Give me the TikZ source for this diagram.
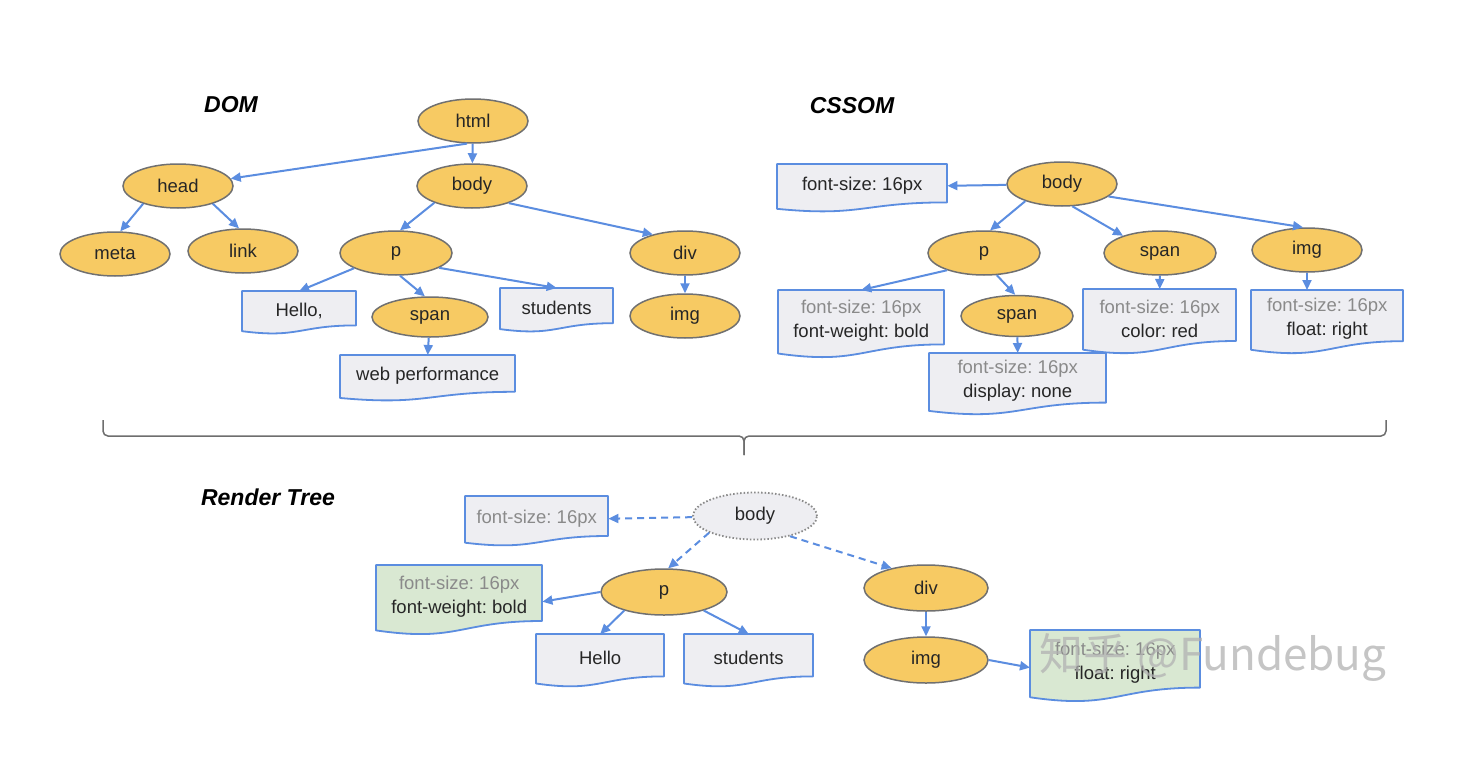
\documentclass[tikz,border=0pt]{standalone}
\usepackage{fontspec}
\setmainfont{Liberation Sans}
\newfontfamily\cjkfont{Noto Sans CJK SC}
\usetikzlibrary{shapes.geometric,arrows.meta}
\frenchspacing
\definecolor{ellfill}{HTML}{F7CA63}
\definecolor{ellline}{HTML}{707070}
\definecolor{blueline}{HTML}{5B8DE0}
\definecolor{boxfill}{HTML}{EEEEF2}
\definecolor{greenfill}{HTML}{D9E8D2}
\definecolor{graytxt}{HTML}{8A8A8A}
\definecolor{darktxt}{HTML}{262626}
\definecolor{braceline}{HTML}{6E6E6E}
\tikzset{
  ell/.style={ellipse, draw=ellline, fill=ellfill, line width=1.5pt, inner sep=0pt,
    minimum width=110pt, minimum height=44pt, text=darktxt, font=\fontsize{18.5}{22}\selectfont},
  dotell/.style={ell, fill=boxfill, draw=graytxt, dotted, line width=1.8pt},
  arr/.style={draw=blueline, line width=2pt, -{Triangle[length=10pt,width=9pt]}},
  darr/.style={arr, dash pattern=on 7pt off 5pt},
  boxtxt/.style={inner sep=0pt, align=center, text=darktxt, font=\fontsize{18.5}{24}\selectfont},
  titletxt/.style={font=\fontsize{23}{26}\selectfont\bfseries\itshape, text=black},
}
% #1 name, #2 x1, #3 y1, #4 w, #5 h, #6 fill, #7 text
\newcommand\docbox[7]{%
  \path[fill=#6, draw=blueline, line width=1.8pt, line join=round]
    (#2,#3) -- ({#2+#4},#3) -- ({#2+#4},{#3+0.8*#5})
    .. controls ({#2+0.5*#4},{#3+0.8*#5}) and ({#2+0.5*#4},{#3+1.107*#5}) .. (#2,{#3+0.934*#5}) -- cycle;
  \node[boxtxt, anchor=north west, minimum width=#4pt, minimum height={0.9*#5pt}] (#1) at (#2,#3) {#7};
}
\begin{document}
\begin{tikzpicture}[x=1pt,y=-1pt]
\useasboundingbox (0,0) rectangle (1464,784);
\fill[white] (0,0) rectangle (1464,784);

% titles
\node[titletxt] (tdom) at (231,105) {DOM};
\node[titletxt] (tcssom) at (852,106) {CSSOM};
\node[titletxt] (trender) at (268,497) {Render Tree};

% ---------- DOM ----------
\node[ell] (html) at (473,121) {html};
\node[ell] (head) at (178,186) {head};
\node[ell] (body) at (472,186) {body};
\node[ell] (meta) at (115,254) {meta};
\node[ell] (link) at (243,251) {link};
\node[ell, minimum width=112pt] (p) at (396,253) {p};
\node[ell] (div) at (685,253) {div};
\node[ell, minimum width=116pt, minimum height=40pt] (span) at (430,317) {span};
\node[ell] (img) at (685,316) {img};
\docbox{hello}{242}{291}{114}{43}{boxfill}{Hello,}
\docbox{students}{500}{288}{113}{44}{boxfill}{students}
\docbox{webperf}{340}{355}{175}{46}{boxfill}{web performance}

\draw[arr] (html.255) -- (head.8);
\draw[arr] (html) -- (body);
\draw[arr] (head.207) -- (meta.77);
\draw[arr] (head.333) -- (link.100);
\draw[arr] (body.204) -- (p.80);
\draw[arr] (body.335) -- (div.150);
\draw[arr] (p.200) -- (hello.north);
\draw[arr] (p.280) -- (span.104);
\draw[arr] (p.341) -- (students.north);
\draw[arr] (span) -- (webperf.north);
\draw[arr] (div) -- (img);

% ---------- CSSOM ----------
\node[ell] (cbody) at (1062,184) {body};
\node[ell, minimum width=112pt] (cp) at (984,253) {p};
\node[ell, minimum width=112pt] (cspan) at (1160,253) {span};
\node[ell] (cimg) at (1307,250) {img};
\node[ell, minimum width=112pt, minimum height=41pt] (cspan2) at (1017,316) {span};
\docbox{cfs}{777}{164}{170}{48}{boxfill}{font-size: 16px}
\docbox{cpbox}{778}{290}{166}{68}{boxfill}{\textcolor{graytxt}{font-size: 16px}\\font-weight: bold}
\docbox{cdisp}{929}{353}{177}{62}{boxfill}{\textcolor{graytxt}{font-size: 16px}\\display: none}
\docbox{ccolor}{1083}{289}{153}{65}{boxfill}{\textcolor{graytxt}{font-size: 16px}\\color: red}
\docbox{cfloat}{1251}{290}{152}{64}{boxfill}{\textcolor{graytxt}{font-size: 16px}\\float: right}

\draw[arr] (cbody) -- (cfs.east);
\draw[arr] (cbody.205) -- (cp.75);
\draw[arr] (cbody.295) -- (cspan.155);
\draw[arr] (cbody.345) -- (cimg.100);
\draw[arr] (cp.205) -- (cpbox.north);
\draw[arr] (cp.300) -- (cspan2.95);
\draw[arr] (cspan2) -- (cdisp.north);
\draw[arr] (cspan) -- (ccolor.north);
\draw[arr] (cimg.south) -- (cimg.south |- cfloat.north);

% ---------- brace ----------
\draw[braceline, line width=1.5pt, rounded corners=5pt] (103,420) -- (103,436) -- (744,436) -- (744,455);
\draw[braceline, line width=1.5pt, rounded corners=5pt] (744,455) -- (744,436) -- (1386,436) -- (1386,420);

% ---------- Render tree ----------
\node[dotell, minimum width=124pt, minimum height=47pt] (rbody) at (755,516) {body};
\docbox{rfs}{465}{496}{143}{50}{boxfill}{\textcolor{graytxt}{font-size: 16px}}
\node[ell, minimum width=126pt, minimum height=46pt] (rp) at (664,592) {p};
\node[ell, minimum width=124pt, minimum height=46pt] (rdiv) at (926,588) {div};
\node[ell, minimum width=124pt, minimum height=46pt] (rimg) at (926,660) {img};
\docbox{rgreen}{376}{565}{166}{70}{greenfill}{\textcolor{graytxt}{font-size: 16px}\\font-weight: bold}
\docbox{rhello}{536}{634}{128}{53}{boxfill}{Hello}
\docbox{rstud}{684}{634}{129}{53}{boxfill}{students}
\docbox{rfloat}{1030}{630}{170}{72}{greenfill}{\textcolor{graytxt}{font-size: 16px}\\float: right}

\draw[darr] (rbody) -- (rfs.east);
\draw[darr] (rbody.200) -- (rp.80);
\draw[darr] (rbody.330) -- (rdiv.150);
\draw[arr] (rp.west) -- ([yshift=-5pt]rgreen.east);
\draw[arr] (rp.205) -- (rhello.north);
\draw[arr] (rp.335) -- (rstud.north);
\draw[arr] (rdiv) -- (rimg);
\draw[arr] (rimg.east) -- ([yshift=-5pt]rfloat.west);

% watermark
\node[font=\cjkfont\fontsize{44}{50}\selectfont, text=gray!60, opacity=0.75] (wm) at (1213,657) {知乎 @Fundebug};
\end{tikzpicture}
\end{document}
